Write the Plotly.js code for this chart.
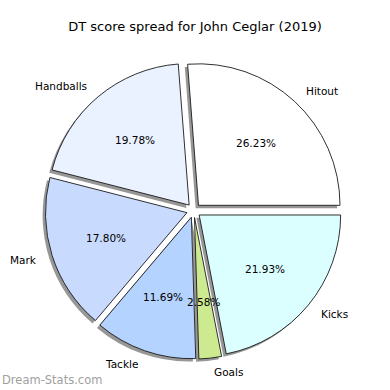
<!DOCTYPE html>
<html>
<head>
<meta charset="utf-8">
<script src="https://cdn.plot.ly/plotly-3.0.1.min.js"></script>
<style>html,body{margin:0;padding:0;background:#fff;}#chart{width:390px;height:390px;}</style>
</head>
<body>
<div id="chart"></div>
<script>
var categories = ["Hitout", "Handballs", "Mark", "Tackle", "Goals", "Kicks"];
var values = [26.23, 19.78, 17.80, 11.69, 2.58, 21.93];
var colors = ["#ffffff", "#eaf1ff", "#c8dbff", "#b4d3ff", "#cdea90", "#dbffff"];
var titleText = "DT score spread for John Ceglar (2019)";
var watermark = "Dream-Stats.com";

var W = 390, H = 390;
var pull = 0.05;
var cxPx = 193.7, cyPx = 210.5, rPx = 141.5;
var half = rPx * (1 + pull);
var shadowOff = 0.02 * rPx;

var total = values.reduce(function (a, b) { return a + b; }, 0);
// Plotly's counterclockwise pies end the first slice at the rotation angle;
// shift so that the first slice starts at 3 o'clock (like matplotlib startangle=0).
var rot = 90 - values[0] / total * 360;

function dom(dx, dy) {
  return {
    x: [(cxPx - half + dx) / W, (cxPx + half + dx) / W],
    y: [1 - (cyPx + half + dy) / H, 1 - (cyPx - half + dy) / H]
  };
}

var pulls = values.map(function () { return pull; });

var shadow = {
  type: "pie", values: values, labels: categories, sort: false,
  direction: "counterclockwise", rotation: rot, pull: pulls,
  marker: {colors: values.map(function () { return "#8c8c8c"; }), line: {width: 0}},
  textinfo: "none", hoverinfo: "skip", showlegend: false,
  domain: dom(-shadowOff, shadowOff), opacity: 0.9
};
var pie = {
  type: "pie", values: values, labels: categories, sort: false,
  direction: "counterclockwise", rotation: rot, pull: pulls,
  marker: {colors: colors, line: {color: "#1a1a1a", width: 0.9}},
  textinfo: "none", showlegend: false,
  domain: dom(0, 0)
};

var annotations = [];
var cum = 0;
values.forEach(function (v, i) {
  var mid = (cum + v / 2) / total * 2 * Math.PI;
  cum += v;
  var c = Math.cos(mid), s = Math.sin(mid);
  var dl = (1.1 + pull) * rPx, dp = (0.6 + pull) * rPx;
  annotations.push({
    xref: "paper", yref: "paper", showarrow: false,
    x: (cxPx + dl * c) / W, y: 1 - (cyPx - dl * s) / H,
    xanchor: c > 0 ? "left" : "right", yanchor: "middle",
    text: categories[i], font: {family: "DejaVu Sans", size: 10.5, color: "#000"}
  });
  annotations.push({
    xref: "paper", yref: "paper", showarrow: false,
    x: (cxPx + dp * c) / W, y: 1 - (cyPx - dp * s) / H,
    xanchor: "center", yanchor: "middle",
    text: (v / total * 100).toFixed(2) + "%", font: {family: "DejaVu Sans", size: 10.5, color: "#000"}
  });
});
annotations.push({
  xref: "paper", yref: "paper", showarrow: false,
  x: 0, y: 1 - 380 / H, xanchor: "left", yanchor: "middle",
  text: watermark, font: {family: "DejaVu Sans", size: 11.5, color: "#a0a0a0"}
});

var layout = {
  width: W, height: H, margin: {l: 0, r: 0, t: 0, b: 0},
  paper_bgcolor: "#fff", plot_bgcolor: "#fff",
  title: {text: titleText, x: 0.5, xanchor: "center", y: 1 - 26 / H, yanchor: "middle", yref: "container",
          font: {family: "DejaVu Sans", size: 13, color: "#000"}},
  annotations: annotations,
  showlegend: false
};

Plotly.newPlot("chart", [shadow, pie], layout, {staticPlot: true});
</script>
</body>
</html>
